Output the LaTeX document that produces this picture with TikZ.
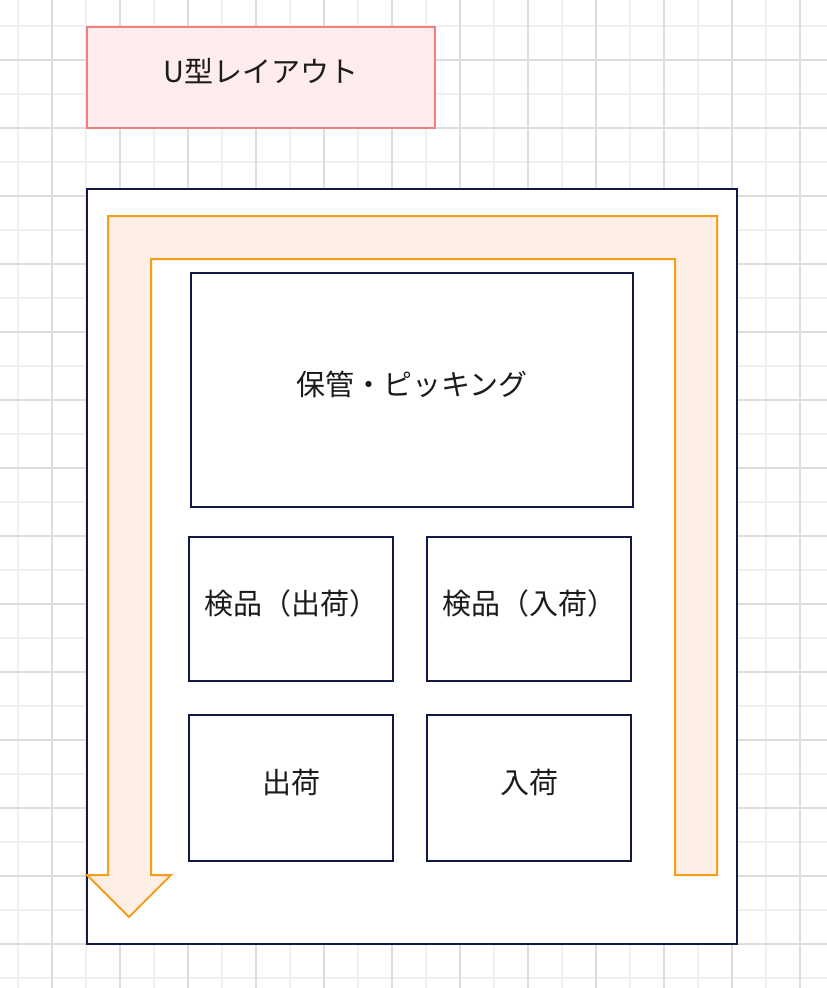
\documentclass[tikz,border=0pt]{standalone}
\usepackage{fontspec}
\newfontfamily\jpfont{Noto Sans CJK JP}
\usetikzlibrary{positioning}

\definecolor{gridlight}{HTML}{EFEFEF}
\definecolor{griddark}{HTML}{DDDDDD}
\definecolor{navy}{HTML}{111A44}
\definecolor{titlefill}{HTML}{FFECEC}
\definecolor{titledraw}{HTML}{F47E7E}
\definecolor{flowfill}{HTML}{FDEFE6}
\definecolor{flowdraw}{HTML}{F59E1B}
\definecolor{ink}{HTML}{1C1C1C}

\newcommand{\lift}[1]{\raisebox{14pt}{#1}}

\begin{document}
\begin{tikzpicture}[x=1pt,y=-1pt]

\tikzset{inner sep=0mm,
title/.style={fill=titlefill,draw=titledraw,line width=2pt,minimum width=348pt,minimum height=101pt,
  font=\jpfont\fontsize{29}{34}\selectfont,text=ink},
area/.style={fill=white,draw=navy,line width=2pt,font=\jpfont\fontsize{29}{34}\selectfont,text=ink},
flow/.style={fill=flowfill,draw=flowdraw,line width=2pt,line join=miter}}

\useasboundingbox (0,0) rectangle (827,988);
\fill[white] (0,0) rectangle (827,988);

% Grid
\foreach \x in {18,86,...,827} \draw[gridlight,line width=2pt] (\x,0) -- (\x,988);
\foreach \y in {26,94,...,988} \draw[gridlight,line width=2pt] (0,\y) -- (827,\y);
\foreach \x in {52,120,...,827} \draw[griddark,line width=2pt] (\x,0) -- (\x,988);
\foreach \y in {60,128,...,988} \draw[griddark,line width=2pt] (0,\y) -- (827,\y);

% Title
\node[title] (layout) at (261,77.5) {\lift{U型レイアウト}};

% Warehouse
\node[fill=white,draw=navy,line width=2pt,minimum width=650pt,minimum height=755pt] (house) at (412,566.5) {};

% U shaped flow
\draw[flow] (108,875) -- (108,216) -- (717,216) -- (717,875) -- (675,875) -- (675,259)
  -- (151,259) -- (151,875) -- (171,875) -- (129,917) -- (87,875) -- cycle;

% Areas
\node[area,minimum width=442pt,minimum height=234pt] (picking) at (412,390) {\lift{保管・ピッキング}};
\node[area,minimum width=204pt,minimum height=144pt] (checkout) at (291,609) {\lift{検品（出荷）}};
\node[area,minimum width=204pt,minimum height=144pt] (checkin) at (529,609) {\lift{検品（入荷）}};
\node[area,minimum width=204pt,minimum height=146pt] (shipping) at (291,788) {\lift{出荷}};
\node[area,minimum width=204pt,minimum height=146pt] (receiving) at (529,788) {\lift{入荷}};

\end{tikzpicture}
\end{document}
